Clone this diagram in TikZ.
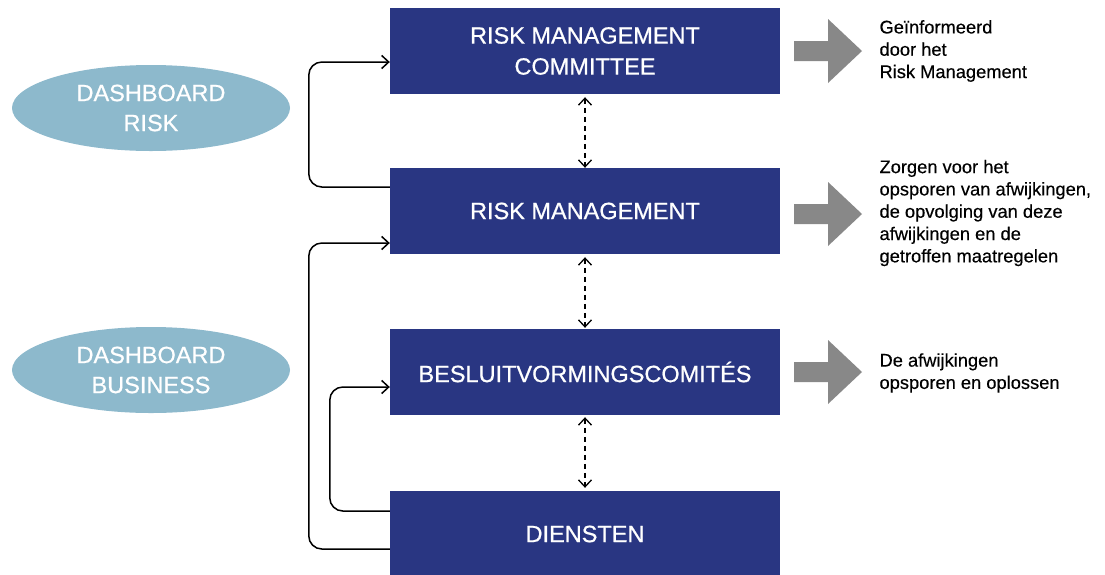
\documentclass[tikz,border=0pt]{standalone}
\usepackage{fontspec}
\setmainfont{Liberation Sans}
\newfontfamily\medfont{Liberation Sans}[FakeBold=0.7]
\newfontfamily\notefont{Liberation Sans}[FakeBold=0.35]
\usetikzlibrary{arrows.meta,shapes.geometric}
\definecolor{boxnavy}{RGB}{41,54,130}
\definecolor{dashblue}{RGB}{141,185,204}
\definecolor{arrowgray}{RGB}{136,136,136}

\begin{document}
\begin{tikzpicture}[x=1pt,y=1pt,
  level/.style={fill=boxnavy, text=white, minimum width=390, minimum height=86, inner sep=0, align=center, font=\medfont\fontsize{23.5}{31}\selectfont},
  board/.style={ellipse, fill=dashblue, text=white, minimum width=278, minimum height=86, inner sep=0, align=center, font=\medfont\fontsize{23.5}{30}\selectfont},
  note/.style={anchor=west, align=left, font=\notefont\fontsize{18.3}{22.3}\selectfont},
  link/.style={black, line width=1.5pt, rounded corners=13, -{Straight Barb[length=7pt,width=13pt]}},
  updown/.style={black, line width=1.3pt, dash pattern=on 5pt off 4pt, {Straight Barb[length=7pt,width=13pt]}-{Straight Barb[length=7pt,width=13pt]}}]
\useasboundingbox (0,-574) rectangle (1105,0);
% levels
\node[level] (rmc) at (585,-51) {RISK MANAGEMENT\\COMMITTEE};
\node[level] (rm) at (585,-211) {RISK MANAGEMENT};
\node[level] (bvc) at (585,-372) {BESLUITVORMINGSCOMITÉS};
\node[level] (dien) at (585,-534) {DIENSTEN};
% dashboards
\node[board] (dbrisk) at (151,-108) {DASHBOARD\\RISK};
\node[board] (dbbus) at (151,-370) {DASHBOARD\\BUSINESS};
% gray arrows
\fill[arrowgray] (794,-41) -- (828,-41) -- (828,-19) -- (862,-51) -- (828,-83) -- (828,-61) -- (794,-61) -- cycle;
\fill[arrowgray] (794,-204) -- (828,-204) -- (828,-182) -- (862,-214) -- (828,-246) -- (828,-224) -- (794,-224) -- cycle;
\fill[arrowgray] (794,-362) -- (828,-362) -- (828,-340) -- (862,-372) -- (828,-404) -- (828,-382) -- (794,-382) -- cycle;
% notes
\node[note] (n1) at (876,-51) {Geïnformeerd\\door het\\Risk Management};
\node[note] (n2) at (876,-213) {Zorgen voor het\\opsporen van afwijkingen,\\de opvolging van deze\\afwijkingen en de\\getroffen maatregelen};
\node[note] (n3) at (876,-373) {De afwijkingen\\opsporen en oplossen};
% feedback loops
\draw[link] ([yshift=24]rm.west) -- ++(-81,0) |- ([yshift=-11]rmc.west);
\draw[link] ([yshift=-15]dien.west) -- ++(-81,0) |- ([yshift=-32]rm.west);
\draw[link] ([yshift=23]dien.west) -- ++(-60,0) |- ([yshift=-15]bvc.west);
% between levels
\draw[updown] ([yshift=-3]rmc.south) -- (rm.north);
\draw[updown] ([yshift=-3]rm.south) -- ([yshift=1]bvc.north);
\draw[updown] ([yshift=-2]bvc.south) -- ([yshift=3]dien.north);
\end{tikzpicture}
\end{document}
